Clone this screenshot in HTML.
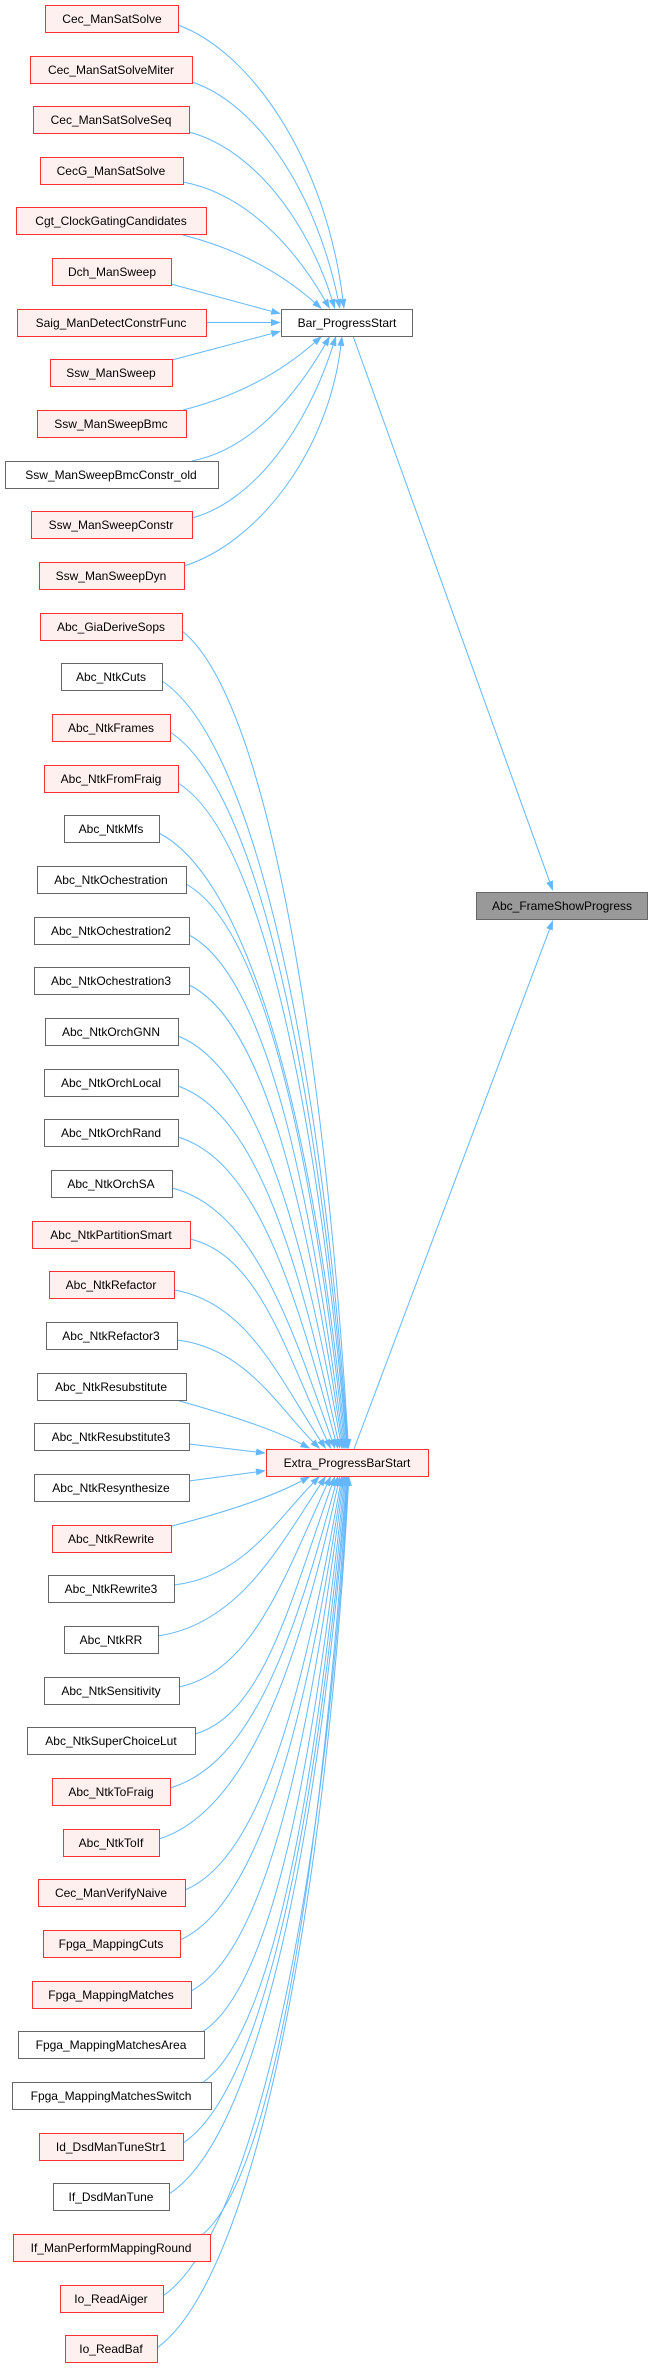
<!DOCTYPE html>
<html><head><meta charset="utf-8"><style>
html,body{margin:0;padding:0;background:#fff;}
svg{display:block;}
text{font-family:"Liberation Sans",Arial,sans-serif;font-size:12px;fill:#000;}
.r{fill:#fff0f0;stroke:#ff3030;stroke-width:1;}
.g{fill:#fff;stroke:#666;stroke-width:1;}
.e{fill:none;stroke:#63b8ff;stroke-width:1;marker-end:url(#a);}
</style></head><body>
<svg width="649" height="2368" viewBox="0 0 649 2368" xmlns="http://www.w3.org/2000/svg">
<defs><marker id="a" markerWidth="11" markerHeight="8" refX="0" refY="3.5" orient="auto" markerUnits="userSpaceOnUse"><path d="M0,0 L10,3.5 L0,7z" fill="#63b8ff"/></marker></defs>
<g>
<path class="e" d="M178,25 C252,52 326,162 342.8,299.1"/>
<path class="e" d="M192,82 C258,104 316,193 338,299.2"/>
<path class="e" d="M189,132 C253,149 307,220 332,299.5"/>
<path class="e" d="M183,182 C247,194 295.5,249 325,300.3"/>
<path class="e" d="M183,235 C242,250 284.5,276 314.5,302.4"/>
<path class="e" d="M171,284 L271.4,311.3"/>
<path class="e" d="M206,322.5 L271,322.5"/>
<path class="e" d="M172,360 L271.4,333.7"/>
<path class="e" d="M183,410 C242,395 284.5,369 314.5,342.6"/>
<path class="e" d="M192,461 C252,449 296,395 325,344.7"/>
<path class="e" d="M192,518 C255,501 307,427 333,345.5"/>
<path class="e" d="M184,566 C255,544 327.6,455 340.8,345.9"/>

<path class="e" d="M182,631 C265,696 323.7,1035 347.9,1439"/>
<path class="e" d="M162,681 C254.5,742 320.8,1060 347.3,1439"/>
<path class="e" d="M170,732 C258.5,789 318.5,1086 346.7,1439"/>
<path class="e" d="M178,783 C262,835 316.6,1111 346.1,1439"/>
<path class="e" d="M159,833 C252,881 315,1136 345,1439"/>
<path class="e" d="M186,884 C265,928 313.4,1161.5 343.9,1439"/>
<path class="e" d="M189,935 C266,975 309.9,1187 342.7,1439.1"/>
<path class="e" d="M189,985 C265,1021 307.5,1212 341.5,1439.1"/>
<path class="e" d="M178,1036 C259,1068 303.9,1237.7 340.2,1439.2"/>
<path class="e" d="M178,1086 C258,1114 299,1262.7 337.8,1439.2"/>
<path class="e" d="M178,1137 C256.5,1161 294.5,1288.4 335.3,1439.4"/>
<path class="e" d="M172,1188 C252,1208 290,1321 331.7,1439.6"/>
<path class="e" d="M190,1239 C258.5,1255 284.8,1349.5 326.8,1440"/>
<path class="e" d="M174,1290 C247,1302 279,1378 320.5,1440.7"/>
<path class="e" d="M177,1340 C245,1348 277.3,1405.7 313,1441.9"/>
<path class="e" d="M176,1400 C230,1415 275,1430 301.5,1444"/>
<path class="e" d="M189,1444 L256,1452"/>
<path class="e" d="M189,1481 L256,1472"/>
<path class="e" d="M172,1526 C230,1511 275,1495 301.5,1481"/>
<path class="e" d="M174,1585 C243.5,1577 277.3,1519.3 313,1483.1"/>
<path class="e" d="M158,1636 C239,1624 279,1547 320.5,1484.3"/>
<path class="e" d="M179,1687 C253,1671 284.8,1576 326.8,1485"/>
<path class="e" d="M195,1734 C263.5,1714 290,1602.5 331.7,1485.4"/>
<path class="e" d="M170,1788 C252.5,1764 294.5,1636.6 335.3,1485.6"/>
<path class="e" d="M159,1839 C248,1811 299,1662 337.8,1485.8"/>
<path class="e" d="M185,1890 C262.5,1858 303.9,1687.8 340.2,1485.8"/>
<path class="e" d="M180,1940 C261,1904 307.5,1713 341.5,1485.9"/>
<path class="e" d="M191,1991 C267,1951 309.9,1738 342.7,1485.9"/>
<path class="e" d="M202,2032 C273,1988 313.9,1759 343.9,1486"/>
<path class="e" d="M202,2083 C273.5,2035 315,1787.5 345,1486"/>
<path class="e" d="M183,2143 C264.5,2090 316.6,1814.5 346.1,1486"/>
<path class="e" d="M169,2194 C258,2137 318.4,1840 346.7,1486"/>
<path class="e" d="M202,2235 C274.5,2175 321,1860.5 347.3,1486"/>
<path class="e" d="M163,2296 C255.5,2231 323.6,1891 347.9,1486"/>
<path class="e" d="M157,2348 C252.5,2279 324.5,1917 348.4,1486"/>

<path class="e" d="M353,336 L549.6,881.6"/>
<path class="e" d="M354,1449 L549.5,929.4"/>
</g>

<g>
<rect class="g" x="281.5" y="309.5" width="131" height="27"/><text x="347" y="327" text-anchor="middle">Bar_ProgressStart</text>
<rect class="r" x="266.5" y="1449.5" width="162" height="27"/><text x="347" y="1467" text-anchor="middle">Extra_ProgressBarStart</text>
<rect x="476.5" y="892.5" width="171" height="27" fill="#999" stroke="#666"/><text x="562" y="910" text-anchor="middle">Abc_FrameShowProgress</text>

<rect class="r" x="45.5" y="5.5" width="133" height="27"/><text x="112" y="23" text-anchor="middle">Cec_ManSatSolve</text>
<rect class="r" x="30.5" y="56.5" width="162" height="27"/><text x="111" y="74" text-anchor="middle">Cec_ManSatSolveMiter</text>
<rect class="r" x="33.5" y="106.5" width="156" height="27"/><text x="111" y="124" text-anchor="middle">Cec_ManSatSolveSeq</text>
<rect class="r" x="40.5" y="157.5" width="143" height="27"/><text x="111" y="175" text-anchor="middle">CecG_ManSatSolve</text>
<rect class="r" x="16.5" y="207.5" width="190" height="27"/><text x="111" y="225" text-anchor="middle">Cgt_ClockGatingCandidates</text>
<rect class="r" x="52.5" y="258.5" width="119" height="27"/><text x="112" y="276" text-anchor="middle">Dch_ManSweep</text>
<rect class="r" x="17.5" y="309.5" width="189" height="27"/><text x="111" y="327" text-anchor="middle">Saig_ManDetectConstrFunc</text>
<rect class="r" x="50.5" y="359.5" width="122" height="27"/><text x="111" y="377" text-anchor="middle">Ssw_ManSweep</text>
<rect class="r" x="37.5" y="410.5" width="149" height="27"/><text x="111" y="428" text-anchor="middle">Ssw_ManSweepBmc</text>
<rect class="g" x="5.5" y="461.5" width="213" height="27"/><text x="111" y="479" text-anchor="middle">Ssw_ManSweepBmcConstr_old</text>
<rect class="r" x="31.5" y="511.5" width="161" height="27"/><text x="111" y="529" text-anchor="middle">Ssw_ManSweepConstr</text>
<rect class="r" x="39.5" y="562.5" width="145" height="27"/><text x="111" y="580" text-anchor="middle">Ssw_ManSweepDyn</text>

<rect class="r" x="40.5" y="613.5" width="142" height="27"/><text x="111" y="631" text-anchor="middle">Abc_GiaDeriveSops</text>
<rect class="g" x="61.5" y="663.5" width="101" height="27"/><text x="111" y="681" text-anchor="middle">Abc_NtkCuts</text>
<rect class="r" x="52.5" y="714.5" width="118" height="27"/><text x="111" y="732" text-anchor="middle">Abc_NtkFrames</text>
<rect class="r" x="44.5" y="765.5" width="134" height="27"/><text x="111" y="783" text-anchor="middle">Abc_NtkFromFraig</text>
<rect class="g" x="64.5" y="815.5" width="95" height="27"/><text x="111" y="833" text-anchor="middle">Abc_NtkMfs</text>
<rect class="g" x="37.5" y="866.5" width="149" height="27"/><text x="111" y="884" text-anchor="middle">Abc_NtkOchestration</text>
<rect class="g" x="34.5" y="917.5" width="155" height="27"/><text x="111" y="935" text-anchor="middle">Abc_NtkOchestration2</text>
<rect class="g" x="34.5" y="967.5" width="155" height="27"/><text x="111" y="985" text-anchor="middle">Abc_NtkOchestration3</text>
<rect class="g" x="45.5" y="1018.5" width="133" height="27"/><text x="111" y="1036" text-anchor="middle">Abc_NtkOrchGNN</text>
<rect class="g" x="44.5" y="1069.5" width="134" height="27"/><text x="111" y="1087" text-anchor="middle">Abc_NtkOrchLocal</text>
<rect class="g" x="44.5" y="1119.5" width="134" height="27"/><text x="111" y="1137" text-anchor="middle">Abc_NtkOrchRand</text>
<rect class="g" x="51.5" y="1170.5" width="121" height="27"/><text x="111" y="1188" text-anchor="middle">Abc_NtkOrchSA</text>
<rect class="r" x="32.5" y="1221.5" width="158" height="27"/><text x="111" y="1239" text-anchor="middle">Abc_NtkPartitionSmart</text>
<rect class="r" x="49.5" y="1271.5" width="125" height="27"/><text x="111" y="1289" text-anchor="middle">Abc_NtkRefactor</text>
<rect class="g" x="46.5" y="1322.5" width="131" height="27"/><text x="111" y="1340" text-anchor="middle">Abc_NtkRefactor3</text>
<rect class="g" x="37.5" y="1373.5" width="149" height="27"/><text x="111" y="1391" text-anchor="middle">Abc_NtkResubstitute</text>
<rect class="g" x="34.5" y="1423.5" width="155" height="27"/><text x="111" y="1441" text-anchor="middle">Abc_NtkResubstitute3</text>
<rect class="g" x="34.5" y="1474.5" width="155" height="27"/><text x="111" y="1492" text-anchor="middle">Abc_NtkResynthesize</text>
<rect class="r" x="52.5" y="1525.5" width="119" height="27"/><text x="111" y="1543" text-anchor="middle">Abc_NtkRewrite</text>
<rect class="g" x="48.5" y="1575.5" width="126" height="27"/><text x="111" y="1593" text-anchor="middle">Abc_NtkRewrite3</text>
<rect class="g" x="64.5" y="1626.5" width="94" height="27"/><text x="111" y="1644" text-anchor="middle">Abc_NtkRR</text>
<rect class="g" x="44.5" y="1677.5" width="135" height="27"/><text x="111" y="1695" text-anchor="middle">Abc_NtkSensitivity</text>
<rect class="g" x="27.5" y="1727.5" width="168" height="27"/><text x="111" y="1745" text-anchor="middle">Abc_NtkSuperChoiceLut</text>
<rect class="r" x="52.5" y="1778.5" width="118" height="27"/><text x="111" y="1796" text-anchor="middle">Abc_NtkToFraig</text>
<rect class="r" x="63.5" y="1829.5" width="96" height="27"/><text x="111" y="1847" text-anchor="middle">Abc_NtkToIf</text>
<rect class="r" x="38.5" y="1879.5" width="147" height="27"/><text x="111" y="1897" text-anchor="middle">Cec_ManVerifyNaive</text>
<rect class="r" x="43.5" y="1930.5" width="137" height="27"/><text x="111" y="1948" text-anchor="middle">Fpga_MappingCuts</text>
<rect class="r" x="32.5" y="1981.5" width="159" height="27"/><text x="111" y="1999" text-anchor="middle">Fpga_MappingMatches</text>
<rect class="g" x="18.5" y="2031.5" width="186" height="27"/><text x="111" y="2049" text-anchor="middle">Fpga_MappingMatchesArea</text>
<rect class="g" x="12.5" y="2082.5" width="199" height="27"/><text x="111" y="2100" text-anchor="middle">Fpga_MappingMatchesSwitch</text>
<rect class="r" x="39.5" y="2133.5" width="144" height="27"/><text x="111" y="2151" text-anchor="middle">Id_DsdManTuneStr1</text>
<rect class="g" x="53.5" y="2183.5" width="116" height="27"/><text x="111" y="2201" text-anchor="middle">If_DsdManTune</text>
<rect class="r" x="13.5" y="2234.5" width="197" height="27"/><text x="111" y="2252" text-anchor="middle">If_ManPerformMappingRound</text>
<rect class="r" x="60.5" y="2285.5" width="103" height="27"/><text x="111" y="2303" text-anchor="middle">Io_ReadAiger</text>
<rect class="r" x="65.5" y="2335.5" width="92" height="27"/><text x="111" y="2353" text-anchor="middle">Io_ReadBaf</text>
</g>
</svg>
</body></html>
